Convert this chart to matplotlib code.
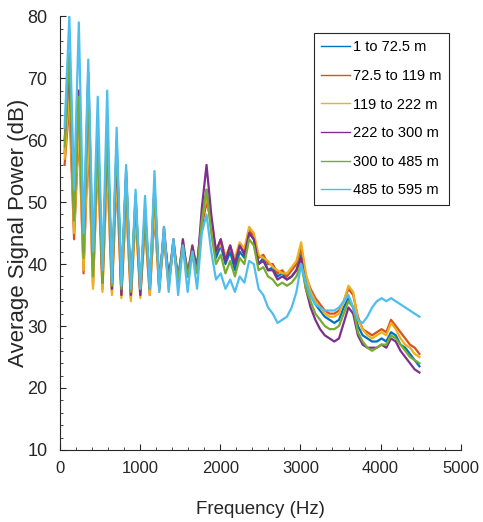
import numpy as np
import matplotlib
matplotlib.use("Agg")
import matplotlib.pyplot as plt
from matplotlib.ticker import MultipleLocator

plt.rcParams['font.family'] = ['Liberation Sans', 'DejaVu Sans']

# frequency grid (Hz), half of the harmonic spacing
freq = np.arange(1, 77) * 59.0

labels = ['1 to 72.5 m', '72.5 to 119 m', '119 to 222 m',
          '222 to 300 m', '300 to 485 m', '485 to 595 m']
colors = ['#0072BD', '#D95319', '#EDB120', '#7E2F8E', '#77AC30', '#4DBEEE']

# values (dB)
s1 = [58, 70, 46, 66, 42, 64, 39, 60, 38, 62, 37, 58, 37, 54, 36, 50, 36, 48, 37, 50,
      37, 45, 38, 43, 38, 43, 39, 42, 40, 47, 52,
      46, 41, 43, 40, 42, 39, 42, 41, 45, 44,
      40, 41, 39, 39.5, 38, 38.5, 37.5, 38, 39, 41.5,
      37, 35, 33.5, 32.5, 31.5, 31, 30.5, 31, 33, 34.5,
      33, 30, 28.5, 28, 27.5, 27.5, 28, 27.5, 29, 28.5,
      27, 26.5, 25.5, 24.5, 23.5]
s2 = [56, 66, 44, 62, 38.5, 60, 36.5, 57, 36, 56, 35.5, 54, 35, 50, 34.5, 48, 35, 46, 35, 48,
      36, 44, 36.5, 43, 37, 43, 38, 42, 39, 46, 50,
      47, 42, 44, 41, 43, 40.5, 43, 42, 45.5, 44.5,
      41, 41.5, 40, 40, 38.5, 39, 38, 39, 40, 42.5,
      38, 36, 34.5, 33.5, 32.5, 32, 32, 32.5, 34, 36,
      35, 31.5, 29.5, 29, 28.5, 29, 29.5, 29, 31, 30,
      29, 28, 27, 26.5, 25.5]
s3 = [57, 68, 45, 63, 39, 62, 36, 58, 35.5, 57, 35, 55, 34.5, 51, 34, 48, 34.5, 47, 35, 49,
      35.5, 45, 36, 44, 37, 44, 38, 43, 39, 47, 51,
      46, 42.5, 43, 41.5, 42.5, 41, 43.5, 42.5, 46, 45,
      41.5, 41, 40.5, 39.5, 39, 38.5, 38.5, 39.5, 40.5, 43.5,
      38.5, 35.5, 34, 33, 32, 31.5, 31.5, 32, 34, 36.5,
      35.5, 31, 29.5, 28.5, 28, 28.5, 29, 28.5, 30.5, 29.5,
      28, 27, 26.5, 25.5, 25]
s4 = [60, 72, 48, 68, 42, 71, 39, 62, 37, 63, 36, 59, 35, 55, 35, 51, 35, 49, 36, 53,
      36, 46, 37, 44, 37, 44, 38, 43, 39, 49, 56,
      48, 42, 44, 40.5, 43, 40, 43, 41.5, 45, 44,
      40, 40.5, 39, 39, 37.5, 38, 37.5, 38, 39, 41,
      36, 33, 31, 29.5, 28.5, 28, 27.5, 28, 30.5, 33,
      32, 28.5, 27, 26.5, 26.5, 26.5, 27, 26.5, 28, 27.5,
      26, 25, 24, 23, 22.5]
s5 = [59, 74, 47, 67, 41, 70, 38, 61, 37, 62, 36.5, 60, 36, 54, 35.5, 50, 36, 48, 36, 52,
      36.5, 45, 37, 43, 37.5, 43, 38, 42, 38.5, 47, 52,
      45, 40, 41.5, 38.5, 40.5, 38, 41, 40, 44, 43,
      39, 39.5, 38, 37.5, 36.5, 37, 36.5, 37, 38, 40,
      36, 34, 32, 31, 30, 29.5, 29.5, 30, 32, 34,
      33, 29, 27.5, 26.5, 26, 26.5, 27, 27, 28.5, 28,
      27, 26, 25, 24.5, 24]
s6 = [62, 80, 52, 79, 45, 73, 42, 67, 39, 68, 37, 62, 36.5, 56, 36, 52, 36, 51, 36, 55,
      35.5, 46, 35.5, 44, 35, 43, 35.5, 42, 36, 45, 48,
      42, 37.5, 38.5, 36, 37.5, 35.5, 38, 37, 40.5, 40,
      36, 35, 33, 32, 30.5, 31, 31.5, 33, 35.5, 40,
      37, 35, 33.5, 33, 32.5, 32.5, 32.5, 33, 34, 35,
      33, 31, 30.5, 31.5, 33, 34, 34.5, 34, 34.5, 34,
      33.5, 33, 32.5, 32, 31.5]
series = [s1, s2, s3, s4, s5, s6]

fig = plt.figure(figsize=(4.83, 5.22), dpi=100)
ax = fig.add_axes([0.124, 0.138, 0.83, 0.831])

for vals, lab, c in zip(series, labels, colors):
    ax.plot(freq, vals, color=c, lw=1.6, label=lab)

ax.set_xlim(0, 5000)
ax.set_ylim(10, 80)
ax.xaxis.set_major_locator(MultipleLocator(1000))
ax.xaxis.set_minor_locator(MultipleLocator(200))
ax.yaxis.set_major_locator(MultipleLocator(10))
ax.yaxis.set_minor_locator(MultipleLocator(2))
ax.tick_params(which='both', direction='in', colors='#262626')
ax.tick_params(axis='x', labelsize=12, pad=8)
ax.tick_params(axis='y', labelsize=13, pad=9)
ax.tick_params(which='major', length=4)
ax.tick_params(which='minor', length=2)
for sp in ['top', 'right']:
    ax.spines[sp].set_visible(False)
for sp in ['left', 'bottom']:
    ax.spines[sp].set_color('#262626')
    ax.spines[sp].set_linewidth(0.8)

ax.set_xlabel('Frequency (Hz)', fontsize=13.5, color='#262626', labelpad=18)
ax.set_ylabel('Average Signal Power (dB)', fontsize=16, color='#262626', labelpad=-1)

leg = ax.legend(loc='upper right', bbox_to_anchor=(0.97, 0.961), borderaxespad=0,
                fontsize=10.5, handlelength=2.0, handletextpad=0.2, labelspacing=1.0,
                borderpad=0.5, fancybox=False, framealpha=1)
leg.get_frame().set_edgecolor('#262626')
leg.get_frame().set_linewidth(0.8)
for h in leg.get_lines():
    h.set_linewidth(1.0)

fig.savefig('out.png', dpi=100)
